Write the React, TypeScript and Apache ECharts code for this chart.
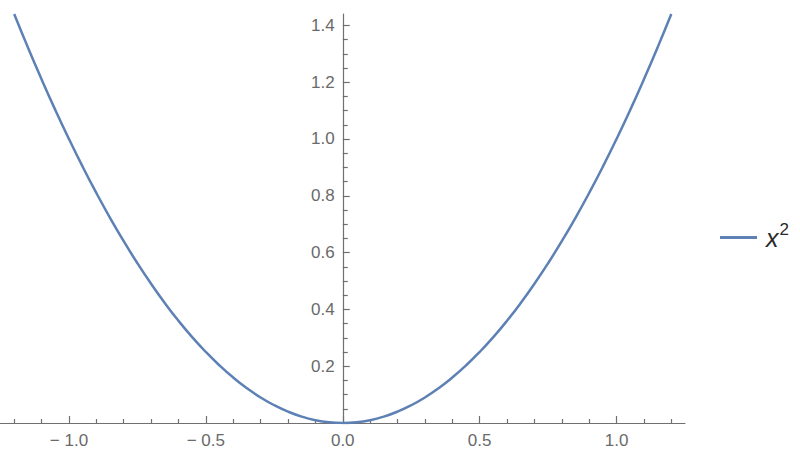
import React, { useEffect, useRef } from "react";
import * as echarts from "echarts";

// Points (x, y)
const xValues = [
  -1.2, -1.15, -1.1, -1.05, -1.0, -0.95, -0.9, -0.85, -0.8, -0.75, -0.7, -0.65, -0.6,
  -0.55, -0.5, -0.45, -0.4, -0.35, -0.3, -0.25, -0.2, -0.15, -0.1, -0.05, 0,
  0.05, 0.1, 0.15, 0.2, 0.25, 0.3, 0.35, 0.4, 0.45, 0.5, 0.55, 0.6,
  0.65, 0.7, 0.75, 0.8, 0.85, 0.9, 0.95, 1.0, 1.05, 1.1, 1.15, 1.2,
];
const yValues = [
  1.44, 1.3225, 1.21, 1.1025, 1.0, 0.9025, 0.81, 0.7225, 0.64, 0.5625, 0.49, 0.4225, 0.36,
  0.3025, 0.25, 0.2025, 0.16, 0.1225, 0.09, 0.0625, 0.04, 0.0225, 0.01, 0.0025, 0,
  0.0025, 0.01, 0.0225, 0.04, 0.0625, 0.09, 0.1225, 0.16, 0.2025, 0.25, 0.3025, 0.36,
  0.4225, 0.49, 0.5625, 0.64, 0.7225, 0.81, 0.9025, 1.0, 1.1025, 1.21, 1.3225, 1.44,
];

const xMajorTicks = [-1.0, -0.5, 0, 0.5, 1.0];
const xMinorTicks = [-1.2, -1.1, -0.9, -0.8, -0.7, -0.6, -0.4, -0.3, -0.2, -0.1, 0.1, 0.2, 0.3, 0.4, 0.6, 0.7, 0.8, 0.9, 1.1, 1.2];
const yMajorTicks = [0, 0.2, 0.4, 0.6, 0.8, 1.0, 1.2, 1.4];
const yLabelTicks = [0.2, 0.4, 0.6, 0.8, 1.0, 1.2, 1.4];
const yMinorTicks = [0.05, 0.1, 0.15, 0.25, 0.3, 0.35, 0.45, 0.5, 0.55, 0.65, 0.7, 0.75, 0.85, 0.9, 0.95, 1.05, 1.1, 1.15, 1.25, 1.3, 1.35];

const seriesName = "x^2";

const AXIS = "#707070";
const LABEL = "#6a6a6a";
const CURVE = "#5E81B5";
const FONT = "'Liberation Sans', Arial, sans-serif";

const GRID_LEFT = 0.5;
const GRID_RIGHT = 115;
const X_MIN = -1.25;
const X_MAX = 1.25;

export default function App() {
  const ref = useRef<HTMLDivElement>(null);
  useEffect(() => {
    if (!ref.current) return;
    const chart = echarts.init(ref.current, undefined, { renderer: "svg" });
    const data = xValues.map((x, i) => [x, yValues[i]]);
    const fmtX = (v: number) => {
      const s = Math.abs(v).toFixed(1);
      return v < 0 ? "\u2212 " + s : s;
    };
    // y axis sits at x = 0: shift it right from the grid's left edge
    const plotWidth = 800 - GRID_LEFT - GRID_RIGHT;
    const yOffset = -((0 - X_MIN) / (X_MAX - X_MIN)) * plotWidth;
    chart.setOption({
      animation: false,
      backgroundColor: "#ffffff",
      grid: {
        left: GRID_LEFT,
        right: GRID_RIGHT,
        top: 14,
        bottom: 34,
        containLabel: false,
        outerBoundsMode: "none",
      },
      legend: {
        left: 715,
        top: 216,
        itemWidth: 37,
        itemHeight: 3,
        icon: "rect",
        data: [seriesName],
        formatter: () => "{g|}{i|x}{s|2}",
        textStyle: {
          rich: {
            g: { width: 4 },
            i: { fontSize: 25, fontStyle: "italic", fontFamily: FONT, color: "#2a2a2a" },
            s: { fontSize: 17, fontFamily: FONT, color: "#2a2a2a", padding: [0, 0, 16, 1] },
          },
        },
      },
      xAxis: [
        {
          type: "value",
          min: X_MIN,
          max: X_MAX,
          position: "bottom",
          splitLine: { show: false },
          axisLine: { show: true, onZero: false, lineStyle: { color: AXIS, width: 1.2 } },
          axisTick: { show: true, inside: true, length: 7, customValues: xMajorTicks, lineStyle: { color: AXIS, width: 1.2 } },
          axisLabel: {
            customValues: xMajorTicks,
            formatter: fmtX,
            color: LABEL,
            fontSize: 17,
            fontFamily: FONT,
            margin: 9,
          },
        },
        {
          type: "value",
          min: X_MIN,
          max: X_MAX,
          position: "bottom",
          splitLine: { show: false },
          axisLine: { show: false, onZero: false },
          axisTick: { show: true, inside: true, length: 4, customValues: xMinorTicks, lineStyle: { color: AXIS, width: 1.2 } },
          axisLabel: { show: false },
        },
      ],
      yAxis: [
        {
          type: "value",
          min: 0,
          max: 1.44,
          position: "left",
          offset: yOffset,
          splitLine: { show: false },
          axisLine: { show: true, onZero: false, lineStyle: { color: AXIS, width: 1.2 } },
          axisTick: { show: true, inside: true, length: 7, customValues: yMajorTicks, lineStyle: { color: AXIS, width: 1.2 } },
          axisLabel: {
            customValues: yLabelTicks,
            formatter: (v: number) => v.toFixed(1),
            color: LABEL,
            fontSize: 17,
            fontFamily: FONT,
            margin: 8,
          },
        },
        {
          type: "value",
          min: 0,
          max: 1.44,
          position: "left",
          offset: yOffset,
          splitLine: { show: false },
          axisLine: { show: false, onZero: false },
          axisTick: { show: true, inside: true, length: 5, customValues: yMinorTicks, lineStyle: { color: AXIS, width: 1.2 } },
          axisLabel: { show: false },
        },
      ],
      series: [
        {
          name: seriesName,
          type: "line",
          xAxisIndex: 0,
          yAxisIndex: 0,
          data,
          smooth: true,
          symbol: "none",
          showSymbol: false,
          lineStyle: { color: CURVE, width: 2.5 },
          itemStyle: { color: CURVE },
        },
      ],
    });
    return () => chart.dispose();
  }, []);
  return (
    <div
      ref={ref}
      style={{ position: "fixed", left: 0, top: 0, width: 800, height: 457, background: "#fff" }}
    />
  );
}
